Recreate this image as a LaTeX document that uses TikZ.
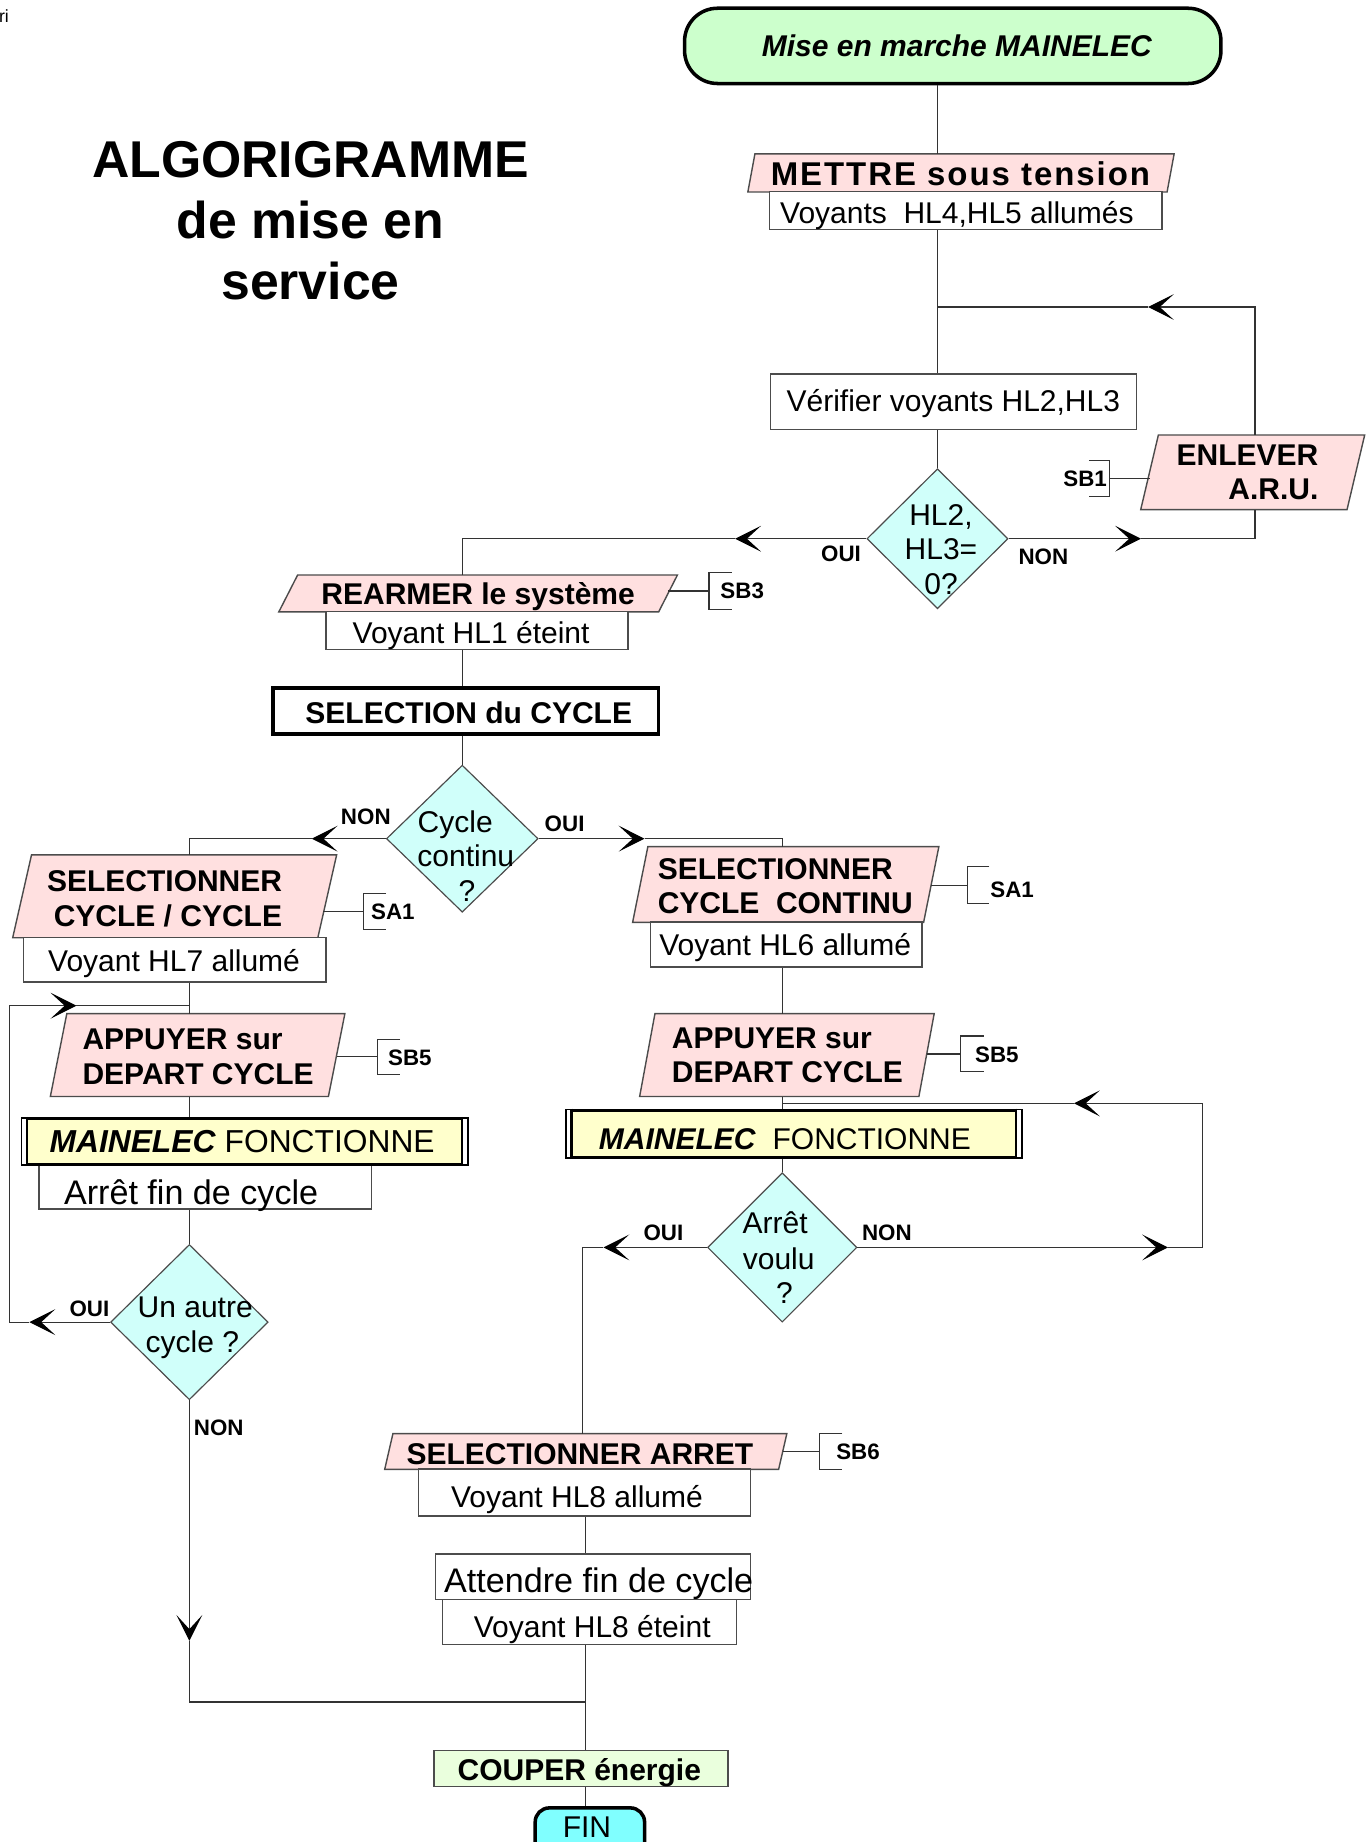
\documentclass[tikz,border=0pt]{standalone}
\usepackage{fontspec}
\setmainfont{Liberation Sans}
\usetikzlibrary{shapes.geometric,arrows.meta,calc}
\definecolor{cgreen}{RGB}{204,255,204}
\definecolor{cpink}{RGB}{255,224,224}
\definecolor{ccyan}{RGB}{208,255,250}
\definecolor{cyellow}{RGB}{255,255,204}
\definecolor{ccouper}{RGB}{234,255,221}
\definecolor{cfin}{RGB}{128,255,255}
\newcommand\parashape[2]{%
  \path[pfill] ([xshift=#2/2]#1.north west) -- ([xshift=#2/2]#1.north east) --
    ([xshift=-#2/2]#1.south east) -- ([xshift=-#2/2]#1.south west) -- cycle;}
\newcommand\lbrk[1]{\draw[ln] (#1.north east) -- (#1.north west) -- (#1.south west) -- (#1.south east);}
\newcommand\rbrk[1]{\draw[ln] (#1.north west) -- (#1.north east) -- (#1.south east) -- (#1.south west);}
\tikzset{
  ln/.style={draw=black!80, line width=1pt},
  arr/.style={ln, -{Stealth[length=22pt,width=22pt,inset=12pt,color=black]}},
  box/.style={rectangle, draw=black!70, line width=1.2pt, fill=white, inner sep=0pt},
  tbox/.style={rectangle, draw=black, line width=3pt, inner sep=0pt},
  para/.style={rectangle, inner sep=0pt},
  pfill/.style={fill=cpink, draw=black!70, line width=1.2pt},
  dia/.style={diamond, draw=black!70, line width=1pt, fill=ccyan, inner sep=0pt},
  brk/.style={rectangle, inner sep=0pt},
  ft/.style={inner sep=0pt, anchor=base, font=\fontsize{25.5}{30}\selectfont},
  fb/.style={inner sep=0pt, anchor=base, font=\fontsize{25.5}{30}\selectfont\bfseries},
  lab/.style={inner sep=0pt, anchor=base, font=\fontsize{19}{22}\selectfont\bfseries},
}
\begin{document}
\begin{tikzpicture}[x=1pt,y=-1pt]
\useasboundingbox (0,0) rectangle (1164,1566);
\clip (0,0) rectangle (1164,1566);

% ---------- shapes ----------
\node[tbox, rounded corners=28pt, fill=cgreen, minimum width=456, minimum height=64] (start) at (810,39) {};
\node[para, minimum width=356, minimum height=32] (mettre) at (817,147) {};
\parashape{mettre}{6}
\node[box, minimum width=334, minimum height=32] (voy45) at (821,179) {};
\node[box, minimum width=311, minimum height=47] (verif) at (810.5,341.5) {};
\node[dia, minimum width=120, minimum height=119] (d1) at (797,458) {};
\node[para, minimum width=175, minimum height=63] (enlever) at (1065,401.5) {};
\parashape{enlever}{15}
\node[para, minimum width=322.5, minimum height=31] (rearmer) at (406.5,504.5) {};
\parashape{rearmer}{16}
\node[box, minimum width=257, minimum height=32] (voy1) at (405.5,536) {};
\node[tbox, fill=white, minimum width=328, minimum height=39] (selcyc) at (396,604.5) {};
\node[dia, minimum width=129, minimum height=125] (d2) at (393,713) {};
\node[para, minimum width=259, minimum height=70] (selcc) at (148.5,762) {};
\parashape{selcc}{16}
\node[box, minimum width=257, minimum height=38] (voy7) at (148.5,816) {};
\node[para, minimum width=236, minimum height=70] (appL) at (168,897) {};
\parashape{appL}{14}
\node[box, minimum width=283, minimum height=38] (arretL) at (174.5,1009) {};
\node[tbox, fill=cyellow, minimum width=378, minimum height=39] (mainL) at (208,970.5) {};
\fill[white] ($(mainL.north west)+(1.5,1.5)$) rectangle ($(mainL.south west)+(4.5,-1.5)$);
\fill[white] ($(mainL.north east)+(-1.5,1.5)$) rectangle ($(mainL.south east)+(-4.5,-1.5)$);
\draw[line width=2pt] ($(mainL.north west)+(5.5,0)$) -- ($(mainL.south west)+(5.5,0)$);
\draw[line width=2pt] ($(mainL.north east)+(-5.5,0)$) -- ($(mainL.south east)+(-5.5,0)$);
\node[dia, minimum width=134, minimum height=132] (d3) at (161,1124) {};
\node[para, minimum width=247, minimum height=64] (selcont) at (668,752) {};
\parashape{selcont}{13}
\node[box, minimum width=231, minimum height=38] (voy6) at (668.5,803) {};
\node[para, minimum width=237, minimum height=70] (appR) at (669,897) {};
\parashape{appR}{13}
\node[tbox, fill=cyellow, minimum width=386, minimum height=40] (mainR) at (675,964) {};
\fill[white] ($(mainR.north west)+(1.5,1.5)$) rectangle ($(mainR.south west)+(4.5,-1.5)$);
\fill[white] ($(mainR.north east)+(-1.5,1.5)$) rectangle ($(mainR.south east)+(-4.5,-1.5)$);
\draw[line width=2pt] ($(mainR.north west)+(5.5,0)$) -- ($(mainR.south west)+(5.5,0)$);
\draw[line width=2pt] ($(mainR.north east)+(-5.5,0)$) -- ($(mainR.south east)+(-5.5,0)$);
\node[dia, minimum width=127, minimum height=127] (d4) at (665,1060.5) {};
\node[para, minimum width=334.5, minimum height=30] (selarr) at (498,1234) {};
\parashape{selarr}{7}
\node[box, minimum width=282, minimum height=40] (voy8a) at (497,1269) {};
\node[box, minimum width=268, minimum height=39] (att) at (504,1340.5) {};
\node[box, minimum width=250, minimum height=38] (voy8b) at (501,1379) {};
\node[box, fill=ccouper, minimum width=250, minimum height=31] (couper) at (494,1503.5) {};
\node[tbox, rounded corners=12pt, fill=cfin, minimum width=93, minimum height=41] (fin) at (501.5,1557.5) {};

% brackets
\node[brk, minimum width=17, minimum height=30] (sb1b) at (934.5,407) {};
\rbrk{sb1b}
\node[brk, minimum width=19, minimum height=31] (sb3b) at (612.5,502.5) {};
\lbrk{sb3b}
\node[brk, minimum width=19, minimum height=30] (sa1Lb) at (318.5,775) {};
\lbrk{sa1Lb}
\node[brk, minimum width=18, minimum height=31] (sa1Rb) at (832,752.5) {};
\lbrk{sa1Rb}
\node[brk, minimum width=19, minimum height=29] (sb5Lb) at (330.5,898.5) {};
\lbrk{sb5Lb}
\node[brk, minimum width=19, minimum height=30] (sb5Rb) at (826.5,896) {};
\lbrk{sb5Rb}
\node[brk, minimum width=19, minimum height=30] (sb6b) at (706.5,1234) {};
\lbrk{sb6b}

% ---------- texts ----------
\node[inner sep=0pt, anchor=base west, font=\fontsize{15}{17}\selectfont] (ri) at (-1,19) {ri};
\node[inner sep=0pt, anchor=base, font=\fontsize{44}{50}\selectfont\bfseries] (t1) at (264,151) {ALGORIGRAMME};
\node[inner sep=0pt, anchor=base, font=\fontsize{44}{50}\selectfont\bfseries] (t2) at (264,203) {de mise en};
\node[inner sep=0pt, anchor=base, font=\fontsize{44}{50}\selectfont\bfseries] (t3) at (264,255) {service};

\node[ft, font=\fontsize{25.5}{30}\selectfont\bfseries\itshape] (tstart) at (813.5,48) {Mise en marche MAINELEC};
\node[ft, font=\fontsize{28}{32}\selectfont\bfseries\addfontfeature{LetterSpace=6}] (tmettre) at (816.5,158) {METTRE sous tension};
\node[ft] (tvoy45) at (813.5,190) {Voyants\ \ HL4,HL5 allumés};
\node[ft] (tverif) at (810.5,350) {Vérifier voyants HL2,HL3};
\node[ft] (td1a) at (800,447) {HL2,};
\node[ft] (td1b) at (800,476) {HL3=};
\node[ft] (td1c) at (800,505) {0?};
\node[fb, anchor=base east] (tenl1) at (1121,396) {ENLEVER};
\node[fb, anchor=base east] (tenl2) at (1121,425) {A.R.U.};
\node[fb] (trearm) at (406.5,514) {REARMER le système};
\node[ft] (tvoy1) at (400.5,547) {Voyant HL1 éteint};
\node[fb] (tselcyc) at (398.5,615) {SELECTION du CYCLE};
\node[ft] (td2a) at (387,708) {Cycle};
\node[ft] (td2b) at (396,737) {continu};
\node[ft] (td2c) at (397,766) {?};
\node[fb, anchor=base east] (tselcc1) at (240,758) {SELECTIONNER};
\node[fb, anchor=base east] (tselcc2) at (240,788) {CYCLE / CYCLE};
\node[ft] (tvoy7) at (148,826) {Voyant HL7 allumé};
\node[fb, anchor=base west] (tappL1) at (70,892) {APPUYER sur};
\node[fb, anchor=base west] (tappL2) at (70,922) {DEPART CYCLE};
\node[ft, anchor=base west, font=\fontsize{27}{30}\selectfont] (tmainL) at (42,980) {\textbf{\textit{MAINELEC}} FONCTIONNE};
\node[ft, font=\fontsize{29}{32}\selectfont] (tarretL) at (162.5,1024) {Arrêt fin de cycle};
\node[ft] (td3a) at (166,1120) {Un autre};
\node[ft] (td3b) at (163.5,1150) {cycle ?};
\node[fb, anchor=base west] (tselcont1) at (559,748) {SELECTIONNER};
\node[fb, anchor=base west] (tselcont2) at (559,777) {CYCLE\ \ CONTINU};
\node[ft] (tvoy6) at (667.5,812) {Voyant HL6 allumé};
\node[fb, anchor=base west] (tappR1) at (571,891) {APPUYER sur};
\node[fb, anchor=base west] (tappR2) at (571,920) {DEPART CYCLE};
\node[ft, anchor=base west] (tmainR) at (509,977) {\textbf{\textit{MAINELEC}}\ \ FONCTIONNE};
\node[ft] (td4a) at (659,1049) {Arrêt};
\node[ft] (td4b) at (662,1079) {voulu};
\node[ft] (td4c) at (667,1108) {?};
\node[fb] (tselarr) at (493,1245) {SELECTIONNER ARRET};
\node[ft] (tvoy8a) at (490.5,1282) {Voyant HL8 allumé};
\node[ft, font=\fontsize{29}{32}\selectfont] (tatt) at (509,1354) {Attendre fin de cycle};
\node[ft] (tvoy8b) at (503.5,1392) {Voyant HL8 éteint};
\node[fb] (tcouper) at (492.5,1514) {COUPER énergie};
\node[ft] (tfin) at (499,1562) {FIN};

% labels
\node[lab] (l1) at (715,477) {OUI};
\node[lab] (l2) at (887,480) {NON};
\node[lab] (l3) at (311,701) {NON};
\node[lab] (l4) at (480,707) {OUI};
\node[lab] (l5) at (76,1119) {OUI};
\node[lab] (l6) at (186,1220) {NON};
\node[lab] (l7) at (564,1055) {OUI};
\node[lab] (l8) at (754,1055) {NON};
\node[lab] (lsb1) at (922.5,414) {SB1};
\node[lab] (lsb3) at (631,509) {SB3};
\node[lab] (lsa1L) at (334,782) {SA1};
\node[lab] (lsa1R) at (860.5,763) {SA1};
\node[lab] (lsb5L) at (348.5,906) {SB5};
\node[lab] (lsb5R) at (847.5,903) {SB5};
\node[lab] (lsb6) at (729.5,1241) {SB6};

% ---------- connectors ----------
\coordinate (xA) at (797,0);
\coordinate (xB) at (393,0);
\coordinate (xC) at (161,0);
\coordinate (xD) at (665,0);
\coordinate (xE) at (498,0);
\draw[ln] (start.south -| xA) -- (mettre.north -| xA);
\draw[ln] (voy45.south -| xA) -- (verif.north -| xA);
\draw[ln] (verif.south -| xA) -- (d1.north);
\coordinate (k1) at (1067,261); \coordinate (a1) at (976,261); \coordinate (j1) at (797,261);
\draw[arr] (enlever.north -| k1) -- (k1) -- (a1);
\draw[ln] (a1) -- (j1);
\coordinate (a2) at (970,458); \coordinate (k2) at (1067,458);
\draw[arr] (d1.east) -- (a2);
\draw[ln] (a2) -- (k2) -- (enlever.south -| k2);
\coordinate (a3) at (625,458); \coordinate (k3) at (393,458);
\draw[arr] (d1.west) -- (a3);
\draw[ln] (a3) -- (k3) -- (rearmer.north -| k3);
\draw[ln] (voy1.south -| xB) -- (selcyc.north -| xB);
\draw[ln] (selcyc.south -| xB) -- (d2.north);
\coordinate (a4) at (265,713); \coordinate (k4) at (161,713);
\draw[arr] (d2.west) -- (a4);
\draw[ln] (a4) -- (k4) -- (selcc.north -| k4);
\coordinate (a5) at (548,713); \coordinate (k5) at (665,713);
\draw[arr] (d2.east) -- (a5);
\draw[ln] (a5) -- (k5) -- (selcont.north -| k5);
\draw[ln] (voy7.south -| xC) -- (appL.north -| xC);
\draw[ln] (appL.south -| xC) -- (mainL.north -| xC);
\draw[ln] (arretL.south -| xC) -- (d3.north);
\coordinate (j6) at (161,855); \coordinate (k7) at (8,855); \coordinate (a6) at (65,855);
\coordinate (k6) at (8,1124); \coordinate (a7) at (25,1124);
\draw[arr] (d3.west) -- (a7);
\draw[ln] (a7) -- (k6);
\draw[arr] (k6) -- (k7) -- (a6);
\draw[ln] (a6) -- (j6);
\coordinate (a8) at (161,1395); \coordinate (k8) at (161,1447); \coordinate (j8) at (498,1447);
\draw[arr] (d3.south) -- (a8);
\draw[ln] (a8) -- (k8) -- (j8);
\draw[ln] (voy6.south -| xD) -- (appR.north -| xD);
\draw[ln] (appR.south -| xD) -- (mainR.north -| xD);
\draw[ln] (mainR.south -| xD) -- (d4.north);
\coordinate (j9) at (665,938); \coordinate (a9) at (993,1060.5); \coordinate (k9) at (1022,1060.5);
\coordinate (k10) at (1022,938); \coordinate (a10) at (913,938);
\draw[arr] (d4.east) -- (a9);
\draw[arr] (a9) -- (k9) -- (k10) -- (a10);
\draw[ln] (a10) -- (j9);
\coordinate (a11) at (513,1060.5); \coordinate (k11) at (495,1060.5);
\draw[arr] (d4.west) -- (a11);
\draw[ln] (a11) -- (k11) -- (selarr.north -| k11);
\draw[ln] (voy8a.south -| xE) -- (att.north -| xE);
\draw[ln] (voy8b.south -| xE) -- (couper.north -| xE);
\draw[ln] (couper.south -| xE) -- (fin.north -| xE);
% bracket links
\draw[ln] (sb1b.east) -- (sb1b.east -| enlever.west);
\draw[ln] (sb3b.west) -- (sb3b.west -| rearmer.east);
\coordinate (e1) at (275,775);
\draw[ln] (e1) -- (sa1Lb.west);
\draw[ln] (sa1Rb.west) -- (sa1Rb.west -| selcont.east);
\draw[ln] (sb5Lb.west) -- (sb5Lb.west -| appL.east);
\draw[ln] (sb5Rb.west) -- (sb5Rb.west -| appR.east);
\draw[ln] (sb6b.west) -- (sb6b.west -| selarr.east);
\end{tikzpicture}
\end{document}
